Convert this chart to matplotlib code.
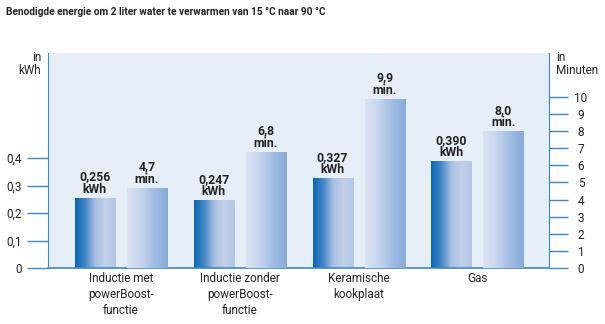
import numpy as np
import matplotlib.pyplot as plt
from matplotlib.colors import LinearSegmentedColormap

categories = ['Inductie met\npowerBoost-\nfunctie', 'Inductie zonder\npowerBoost-\nfunctie',
              'Keramische\nkookplaat', 'Gas']
energy_kwh = [0.256, 0.247, 0.327, 0.390]
time_min = [4.7, 6.8, 9.9, 8.0]
kwh_ticks = [0, 0.1, 0.2, 0.3, 0.4]
min_ticks = list(range(0, 11))

title = 'Benodigde energie om 2 liter water te verwarmen van 15 °C naar 90 °C'

plt.rcParams['font.family'] = ['Roboto', 'DejaVu Sans']

blue = '#3f87c5'
txt = '#222222'
bg = '#e6eef8'

dark_cmap = LinearSegmentedColormap.from_list(
    'dark', ['#0a67b3', '#4386c6', '#a9c0e3', '#c3d1ea', '#b2c6e5'])
light_cmap = LinearSegmentedColormap.from_list(
    'light', ['#dce4f4', '#c6d5ee', '#a2bde3', '#87aad9'])


def fmt(v, nd):
    return f'{v:.{nd}f}'.replace('.', ',')


def gradient_bars(ax, bars, cmap):
    grad = np.linspace(0, 1, 256).reshape(1, -1)
    for b in bars:
        x0, y0 = b.get_x(), b.get_y()
        w, h = b.get_width(), b.get_height()
        im = ax.imshow(grad, cmap=cmap, aspect='auto', extent=(x0, x0 + w, y0, y0 + h),
                       zorder=b.get_zorder())
        im.set_clip_path(b)
        b.set_facecolor('none')


fig = plt.figure(figsize=(6.05, 3.24), dpi=100)
ax = fig.add_axes([48 / 605, 1 - 268 / 324, 501 / 605, 215 / 324])
ax2 = ax.twinx()

x = np.arange(len(categories))
w = 0.337
off = 0.219

ax.set_facecolor(bg)
b1 = ax.bar(x - off, energy_kwh, w, color='none', edgecolor='none', zorder=2)
b2 = ax2.bar(x + off, time_min, w, color='none', edgecolor='none', zorder=2)

gradient_bars(ax, b1, dark_cmap)
gradient_bars(ax2, b2, light_cmap)
ax.set_xlim(-0.614, 3.603)
ax.set_ylim(0, 0.782)
ax2.set_ylim(0, 12.57)

for xi, v in zip(x, energy_kwh):
    ax.text(xi - off, v + 0.006, fmt(v, 3) + '\nkWh', ha='center', va='bottom',
            fontsize=8.8, fontweight='bold', color=txt, linespacing=0.95)
for xi, v in zip(x, time_min):
    ax2.text(xi + off, v + 0.1, fmt(v, 1) + '\nmin.', ha='center', va='bottom',
             fontsize=8.8, fontweight='bold', color=txt, linespacing=0.95)

for s in ['top', 'bottom']:
    ax.spines[s].set_visible(False)
    ax2.spines[s].set_visible(False)
ax.spines['left'].set_color(blue)
ax2.spines['right'].set_color(blue)
ax.spines['right'].set_visible(False)
ax2.spines['left'].set_visible(False)

ax.set_yticks(kwh_ticks)
ax.set_yticklabels([fmt(t, 1) if t else '0' for t in kwh_ticks])
ax.tick_params(axis='y', length=15, width=1, color=blue, labelsize=8.5,
               labelcolor=txt, pad=4)
ax2.set_yticks(min_ticks)
ax2.set_yticklabels([str(t) for t in min_ticks], ha='center')
ax2.tick_params(axis='y', length=14, width=1, color=blue, labelsize=8.5,
                labelcolor=txt, pad=9)

ax.set_xticks(x)
ax.set_xticklabels(categories, fontsize=8.5, color=txt, linespacing=1.3)
ax.tick_params(axis='x', length=0, pad=3)

# baseline across the plot
ax.axhline(0, color=blue, lw=1.2, zorder=5, clip_on=False)

fig.text(6 / 605, 1 - 12 / 324, title, fontsize=7.3, fontweight='bold', color=txt,
         va='center', ha='left')
fig.text(41 / 605, 1 - 51 / 324, 'in\nkWh', fontsize=8.5, color=txt, ha='right',
         va='top', linespacing=0.95)
fig.text(556 / 605, 1 - 51 / 324, 'in\nMinuten', fontsize=8.5, color=txt, ha='left',
         va='top', linespacing=0.95)

fig.savefig('out.png', dpi=100)
